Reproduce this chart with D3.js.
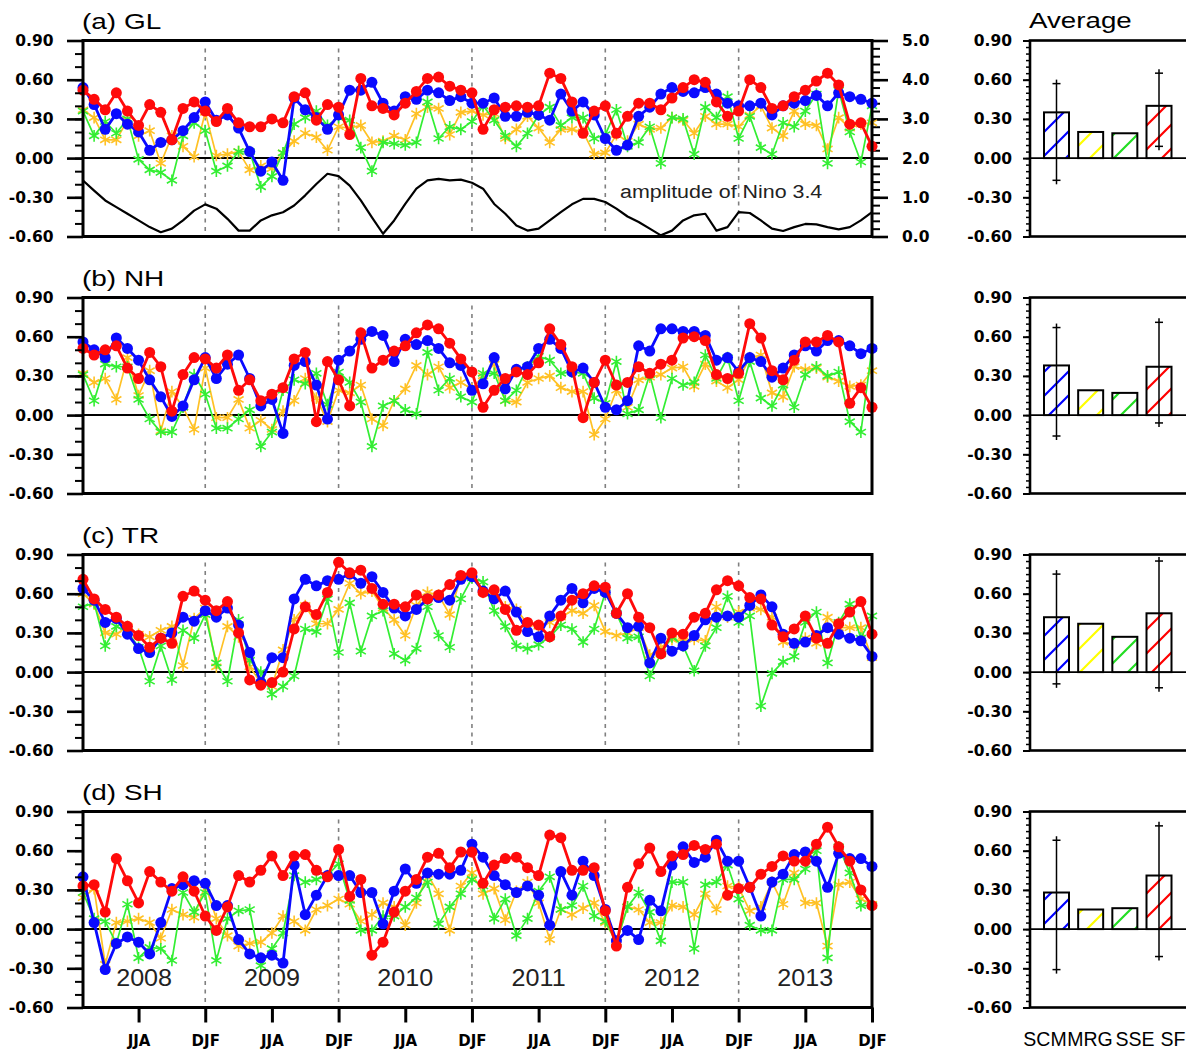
<!DOCTYPE html>
<html>
<head>
<meta charset="utf-8">
<script src="https://cdn.jsdelivr.net/npm/d3@7"></script>
<style>
  html, body { margin: 0; padding: 0; background: #fff; overflow: hidden; }
  svg { display: block; background: #fff; }
</style>
</head>
<body>
<svg id="chart" width="1186" height="1052"></svg>
<script>
// ---------------- data ----------------
// Monthly index 0..71 (Feb 2008 .. Jan 2014); ticks mark JJA / DJF season centres.
const seasonTickIndex = [5, 11, 17, 23, 29, 35, 41, 47, 53, 59, 65, 71];
const seasonTickLabels = ["JJA", "DJF", "JJA", "DJF", "JJA", "DJF", "JJA", "DJF", "JJA", "DJF", "JJA", "DJF"];
const years = ["2008", "2009", "2010", "2011", "2012", "2013"];
const models = ["SCM", "MRG", "SSE", "SFC"];
const panelTitles = ["(a) GL", "(b) NH", "(c) TR", "(d) SH"];
const yTicks = [-0.6, -0.3, 0, 0.3, 0.6, 0.9];
const ninoTicks = [0, 1, 2, 3, 4, 5];

// (a) global
const glSCM = [0.54,0.41,0.22,0.34,0.26,0.20,0.06,0.12,0.14,0.21,0.31,0.43,0.29,0.33,0.23,0.05,-0.10,-0.03,-0.17,0.46,0.37,0.31,0.22,0.33,0.52,0.52,0.58,0.42,0.36,0.47,0.45,0.52,0.50,0.44,0.47,0.42,
               0.42,0.46,0.32,0.32,0.35,0.33,0.29,0.49,0.36,0.43,0.33,0.15,0.06,0.10,0.32,0.39,0.49,0.54,0.51,0.50,0.54,0.49,0.42,0.40,0.40,0.42,0.33,0.40,0.42,0.44,0.48,0.40,0.50,0.47,0.45,0.42];
const glMRG = [0.37,0.31,0.14,0.14,0.29,0.17,0.21,-0.04,0.17,0.09,0.01,0.35,0.02,0.03,0.05,-0.09,-0.06,-0.08,0.04,0.13,0.19,0.16,0.06,0.24,0.23,0.25,0.12,0.13,0.17,0.14,0.34,0.39,0.38,0.18,0.35,0.36,
               0.33,0.34,0.15,0.22,0.32,0.23,0.12,0.22,0.22,0.20,0.03,0.04,0.18,0.13,0.26,0.22,0.23,0.31,0.29,0.19,0.32,0.26,0.26,0.24,0.33,0.40,0.23,0.17,0.36,0.26,0.25,0.07,0.31,0.23,0.26,0.27];
const glSSE = [0.36,0.17,0.28,0.19,0.30,-0.01,-0.09,-0.11,-0.17,0.17,0.27,0.21,-0.10,-0.06,0.05,0.05,-0.22,-0.14,0.04,0.26,0.31,0.36,0.25,0.31,0.29,0.08,-0.10,0.12,0.11,0.10,0.12,0.43,0.15,0.24,0.22,0.28,
               0.40,0.29,0.17,0.09,0.19,0.33,0.39,0.25,0.31,0.31,0.15,0.18,0.37,0.09,0.12,0.24,-0.04,0.31,0.30,0.03,0.39,0.31,0.47,0.15,0.32,0.08,0.03,0.27,0.24,0.36,0.49,-0.04,0.52,0.20,-0.03,0.40];
const glSFC = [0.52,0.45,0.37,0.50,0.36,0.25,0.41,0.35,0.14,0.38,0.43,0.36,0.28,0.38,0.27,0.24,0.24,0.30,0.27,0.47,0.50,0.29,0.41,0.39,0.18,0.61,0.40,0.38,0.33,0.42,0.51,0.61,0.62,0.55,0.52,0.50,
               0.22,0.37,0.39,0.40,0.39,0.40,0.65,0.61,0.43,0.19,0.36,0.40,0.19,0.32,0.42,0.42,0.37,0.46,0.54,0.60,0.58,0.43,0.32,0.36,0.60,0.54,0.38,0.40,0.47,0.52,0.59,0.65,0.56,0.26,0.27,0.09];
const ninoAmplitude = [1.43,1.17,0.92,0.75,0.58,0.41,0.24,0.11,0.20,0.41,0.66,0.82,0.71,0.45,0.15,0.15,0.41,0.54,0.62,0.79,1.05,1.34,1.60,1.54,1.30,0.92,0.49,0.07,0.41,0.83,1.22,1.43,1.47,1.43,1.45,1.37,
                       1.22,0.83,0.58,0.28,0.15,0.20,0.41,0.62,0.82,0.96,0.96,0.88,0.71,0.51,0.37,0.20,0.03,0.15,0.41,0.54,0.58,0.15,0.24,0.62,0.60,0.41,0.20,0.14,0.24,0.32,0.31,0.24,0.18,0.24,0.41,0.62];

// (b) northern hemisphere
const nhSCM = [0.56,0.50,0.44,0.59,0.51,0.42,0.27,0.14,-0.01,0.07,0.27,0.44,0.28,0.39,0.46,0.28,0.07,0.12,-0.14,0.38,0.41,0.23,-0.03,0.42,0.49,0.58,0.64,0.61,0.41,0.58,0.54,0.57,0.51,0.40,0.38,0.19,
               0.24,0.44,0.20,0.35,0.37,0.51,0.58,0.51,0.33,0.36,0.25,0.06,0.04,0.11,0.53,0.49,0.66,0.66,0.64,0.64,0.61,0.42,0.44,0.33,0.44,0.41,0.29,0.36,0.46,0.53,0.49,0.57,0.57,0.53,0.47,0.51];
const nhMRG = [0.32,0.25,0.28,0.12,0.44,0.15,0.34,-0.12,0.18,0.06,-0.11,0.36,-0.02,-0.02,0.12,-0.10,-0.04,-0.11,0.03,0.11,0.28,0.13,-0.05,0.19,0.17,0.23,-0.03,-0.08,0.11,0.20,0.38,0.31,0.37,0.21,0.25,0.20,
               0.30,0.39,0.11,0.10,0.25,0.28,0.30,0.21,0.18,0.18,-0.15,-0.03,0.19,0.06,0.27,0.29,0.31,0.36,0.37,0.22,0.39,0.26,0.21,0.27,0.44,0.46,0.17,0.14,0.37,0.35,0.36,0.29,0.26,0.22,0.23,0.34];
const nhSSE = [0.31,0.11,0.39,0.37,0.37,0.12,-0.03,-0.13,-0.13,0.06,0.31,0.16,-0.10,-0.10,-0.03,0.04,-0.24,-0.13,0.19,0.27,0.24,0.32,0.08,0.33,0.25,0.10,-0.24,0.07,0.11,0.04,0.01,0.48,0.19,0.28,0.14,0.10,
               0.32,0.32,0.11,0.19,0.37,0.45,0.42,0.32,0.33,0.32,0.13,0.09,0.41,0.01,0.04,0.31,-0.02,0.28,0.23,0.25,0.46,0.28,0.44,0.11,0.41,0.13,0.07,0.23,0.06,0.31,0.37,0.30,0.33,-0.05,-0.13,0.51];
const nhSFC = [0.51,0.46,0.50,0.53,0.36,0.28,0.48,0.37,0.03,0.31,0.44,0.43,0.36,0.46,0.19,0.27,0.11,0.16,0.21,0.43,0.48,-0.05,0.41,0.27,0.07,0.63,0.36,0.42,0.49,0.53,0.63,0.69,0.66,0.55,0.43,0.33,
               0.06,0.19,0.28,0.33,0.31,0.40,0.66,0.54,0.37,-0.02,0.25,0.42,0.23,0.25,0.37,0.32,0.39,0.42,0.59,0.60,0.57,0.31,0.28,0.32,0.70,0.59,0.34,0.27,0.42,0.56,0.56,0.61,0.56,0.09,0.21,0.06];

// (c) tropics
const trSCM = [0.64,0.55,0.38,0.41,0.29,0.18,0.15,0.26,0.30,0.42,0.39,0.47,0.42,0.49,0.36,0.15,-0.08,0.11,0.11,0.56,0.71,0.66,0.70,0.71,0.75,0.68,0.73,0.61,0.49,0.43,0.48,0.56,0.57,0.55,0.71,0.73,
               0.62,0.56,0.62,0.46,0.31,0.27,0.43,0.55,0.64,0.53,0.64,0.61,0.45,0.34,0.35,0.07,0.26,0.16,0.20,0.28,0.40,0.42,0.43,0.42,0.51,0.59,0.50,0.29,0.22,0.23,0.28,0.34,0.29,0.26,0.24,0.12];
const trMRG = [0.60,0.52,0.30,0.29,0.35,0.29,0.27,0.32,0.35,0.05,0.41,0.49,0.04,0.35,0.27,0.04,-0.08,-0.11,0.17,0.40,0.51,0.37,0.37,0.48,0.68,0.60,0.62,0.49,0.40,0.28,0.51,0.61,0.59,0.44,0.73,0.74,
               0.61,0.59,0.50,0.48,0.37,0.35,0.38,0.42,0.47,0.45,0.51,0.31,0.28,0.30,0.34,0.13,0.19,0.25,0.24,0.25,0.24,0.50,0.42,0.46,0.49,0.48,0.42,0.23,0.21,0.26,0.22,0.42,0.34,0.34,0.34,0.11];
const trSSE = [0.50,0.53,0.20,0.35,0.31,0.19,-0.07,0.20,-0.06,0.32,0.26,0.44,0.07,-0.07,0.40,0.09,0.00,-0.17,-0.11,-0.03,0.33,0.31,0.56,0.15,0.53,0.16,0.43,0.47,0.14,0.09,0.18,0.50,0.28,0.19,0.56,0.72,
               0.69,0.47,0.35,0.20,0.18,0.21,0.27,0.36,0.33,0.23,0.33,0.61,0.45,0.26,0.27,-0.03,0.14,0.27,0.20,0.01,0.20,0.34,0.58,0.38,0.43,-0.26,-0.01,0.08,0.12,0.38,0.46,0.07,0.38,0.52,0.26,0.43];
const trSFC = [0.71,0.56,0.48,0.42,0.35,0.28,0.19,0.26,0.22,0.58,0.62,0.55,0.47,0.54,0.30,-0.06,-0.10,-0.08,0.00,0.33,0.50,0.44,0.61,0.84,0.76,0.78,0.64,0.52,0.52,0.50,0.59,0.56,0.59,0.67,0.74,0.76,
               0.61,0.63,0.48,0.32,0.38,0.36,0.27,0.43,0.55,0.60,0.66,0.65,0.45,0.60,0.42,0.34,0.14,0.30,0.29,0.42,0.45,0.63,0.70,0.66,0.57,0.56,0.36,0.27,0.33,0.43,0.26,0.22,0.37,0.46,0.54,0.29];

// (d) southern hemisphere
const shSCM = [0.40,0.05,-0.31,-0.11,-0.06,-0.10,-0.19,0.05,0.31,0.34,0.37,0.35,0.18,0.18,-0.08,-0.19,-0.22,-0.20,-0.26,0.49,0.11,0.26,0.41,0.41,0.41,0.28,0.28,0.04,0.29,0.46,0.35,0.43,0.42,0.42,0.45,0.65,
               0.55,0.41,0.34,0.28,0.33,0.26,0.03,0.44,0.26,0.52,0.41,0.15,-0.09,-0.01,-0.08,0.22,0.14,0.49,0.63,0.51,0.55,0.68,0.52,0.52,0.32,0.10,0.36,0.42,0.57,0.59,0.52,0.32,0.58,0.54,0.54,0.48];
const shMRG = [0.24,0.31,-0.27,0.05,0.06,0.08,0.05,-0.07,0.15,0.11,0.09,0.34,0.08,-0.05,-0.13,-0.11,-0.10,-0.03,0.10,0.06,-0.01,0.15,0.18,0.23,0.19,0.06,0.11,0.20,0.17,0.03,0.20,0.42,0.27,-0.01,0.33,0.43,
               0.27,0.31,0.07,0.29,0.36,0.20,-0.08,0.15,0.11,0.16,0.20,0.05,-0.10,0.17,0.15,0.05,0.05,0.18,0.17,0.11,0.27,0.15,0.33,0.32,0.14,0.17,0.36,0.19,0.43,0.20,0.20,-0.13,0.34,0.36,0.23,0.19];
const shSSE = [0.28,0.08,0.06,-0.11,0.19,-0.22,-0.14,-0.15,-0.24,0.28,0.13,0.28,-0.24,0.08,0.14,0.15,-0.28,-0.15,-0.03,0.41,0.36,0.38,0.41,0.50,0.22,-0.01,-0.01,0.10,0.10,0.17,0.24,0.36,0.04,0.17,0.27,0.38,
               0.33,0.08,0.23,-0.05,0.08,0.29,0.40,0.15,0.18,0.33,0.10,0.06,-0.10,0.17,0.28,0.13,-0.09,0.36,0.36,-0.15,0.34,0.36,0.49,0.23,0.03,-0.01,-0.01,0.38,0.38,0.46,0.60,-0.22,0.63,0.43,0.18,0.18];
const shSFC = [0.33,0.34,0.13,0.54,0.37,0.20,0.44,0.36,0.29,0.40,0.29,0.10,-0.01,0.17,0.41,0.36,0.45,0.56,0.41,0.56,0.57,0.45,0.40,0.61,0.25,0.38,-0.20,-0.10,0.13,0.29,0.38,0.55,0.58,0.47,0.59,0.59,
               0.35,0.49,0.54,0.55,0.47,0.41,0.72,0.70,0.45,0.45,0.47,0.14,-0.13,0.32,0.50,0.62,0.44,0.56,0.57,0.64,0.61,0.65,0.26,0.31,0.32,0.42,0.48,0.56,0.52,0.52,0.65,0.78,0.63,0.52,0.30,0.18];

// Averages over the period (SCM, MRG, SSE, SFC) and spread for SCM / SFC
const avgGL = [0.35, 0.20, 0.19, 0.40];
const avgNH = [0.38, 0.19, 0.17, 0.37];
const avgTR = [0.42, 0.37, 0.27, 0.45];
const avgSH = [0.28, 0.15, 0.16, 0.41];
const spreadGL = [[-0.17, 0.57], null, null, [0.09, 0.65]];
const spreadNH = [[-0.16, 0.67], null, null, [-0.06, 0.71]];
const spreadTR = [[-0.09, 0.75], null, null, [-0.12, 0.85]];
const spreadSH = [[-0.31, 0.68], null, null, [-0.21, 0.79]];

// ---------------- drawing ----------------
const panels = [
  { title: panelTitles[0], series: { SCM: glSCM, MRG: glMRG, SSE: glSSE, SFC: glSFC }, avg: avgGL, spread: spreadGL },
  { title: panelTitles[1], series: { SCM: nhSCM, MRG: nhMRG, SSE: nhSSE, SFC: nhSFC }, avg: avgNH, spread: spreadNH },
  { title: panelTitles[2], series: { SCM: trSCM, MRG: trMRG, SSE: trSSE, SFC: trSFC }, avg: avgTR, spread: spreadTR },
  { title: panelTitles[3], series: { SCM: shSCM, MRG: shMRG, SSE: shSSE, SFC: shSFC }, avg: avgSH, spread: spreadSH }
];

const lineColor = { SCM: "#0a0aff", MRG: "#ffc125", SSE: "#33ee33", SFC: "#ff0a0a" };
const hatchColor = { SCM: "#0000ff", MRG: "#ffff00", SSE: "#22dd22", SFC: "#ff0000" };
const drawOrder = ["MRG", "SSE", "SCM", "SFC"];

const plotLeft = 83, plotRight = 872;
const panelH = 196, panelStep = 257, firstTop = 40.5;
const barLeft = 1030, barRight = 1205;
const tickFont = "'DejaVu Sans', sans-serif";
const textFont = "'Liberation Sans', Arial, sans-serif";

const svg = d3.select("#chart");
const defs = svg.append("defs");

// diagonal hatch patterns for the average bars
models.forEach(m => {
  const p = defs.append("pattern")
    .attr("id", "hatch-" + m)
    .attr("patternUnits", "userSpaceOnUse")
    .attr("width", 24).attr("height", 24);
  p.append("rect").attr("width", 24).attr("height", 24).attr("fill", "#fff");
  p.append("path")
    .attr("d", "M-6,6 L6,-6 M0,24 L24,0 M18,30 L30,18")
    .attr("stroke", hatchColor[m]).attr("stroke-width", 2.2).attr("fill", "none");
});

const x = d3.scaleLinear().domain([0, 71]).range([plotLeft, plotRight]);
const fmt2 = d => d.toFixed(2);
const fmt1 = d => d.toFixed(1);

function styleAxis(g, size) {
  g.select(".domain").remove();
  g.attr("font-family", null).attr("font-size", null);
  g.selectAll("text")
    .attr("font-family", tickFont)
    .attr("font-weight", "bold")
    .attr("font-size", size)
    .attr("fill", "#000");
  g.selectAll(".tick line").attr("stroke", "#000");
}

function minorAxis(parent, axisFn, scale, values, size, width) {
  const g = parent.append("g").call(axisFn(scale).tickValues(values).tickSize(size).tickFormat(""));
  g.select(".domain").remove();
  g.selectAll(".tick line").attr("stroke", "#000").attr("stroke-width", width);
  return g;
}

const starSymbol = d3.symbol().type(d3.symbolAsterisk).size(95);

panels.forEach((panel, k) => {
  const top = firstTop + panelStep * k;
  const bottom = top + panelH;
  const y = d3.scaleLinear().domain([-0.6, 0.9]).range([bottom, top]);
  const g = svg.append("g").attr("class", "panel");

  // dashed separators at each DJF inside the plot
  const djf = seasonTickIndex.filter((d, i) => seasonTickLabels[i] === "DJF" && d < 71);
  g.selectAll("line.djf").data(djf).enter().append("line")
    .attr("x1", d => x(d)).attr("x2", d => x(d))
    .attr("y1", top + 8).attr("y2", bottom)
    .attr("stroke", "#808080").attr("stroke-width", 1.6)
    .attr("stroke-dasharray", "4,4.5");

  // zero line
  g.append("line")
    .attr("x1", plotLeft).attr("x2", plotRight)
    .attr("y1", y(0)).attr("y2", y(0))
    .attr("stroke", "#000").attr("stroke-width", 2);

  // Nino 3.4 amplitude (right axis) in the global panel
  if (k === 0) {
    const yN = d3.scaleLinear().domain([0, 5]).range([bottom, top]);
    g.append("path")
      .datum(ninoAmplitude)
      .attr("fill", "none").attr("stroke", "#000").attr("stroke-width", 2.2)
      .attr("stroke-linejoin", "round")
      .attr("d", d3.line().x((d, i) => x(i)).y(d => yN(d)));

    minorAxis(g.append("g").attr("transform", `translate(${plotRight},0)`), d3.axisRight, yN,
      d3.range(0, 26).map(v => v / 5), 8, 2);
    const ra = g.append("g").attr("transform", `translate(${plotRight},0)`)
      .call(d3.axisRight(yN).tickValues(ninoTicks).tickFormat(fmt1).tickSize(16).tickPadding(14));
    styleAxis(ra, 15.5);
    ra.selectAll(".tick line").attr("stroke-width", 2.6);

    g.append("text")
      .attr("transform", "translate(620,198) scale(1.19,1)")
      .attr("font-family", textFont).attr("font-size", 18).attr("fill", "#222")
      .text("amplitude of Nino 3.4");
  }

  // series
  drawOrder.forEach(m => {
    const vals = panel.series[m];
    const isDot = (m === "SCM" || m === "SFC");
    const sg = g.append("g").attr("class", "series-" + m);
    sg.append("path")
      .datum(vals)
      .attr("fill", "none")
      .attr("stroke", lineColor[m])
      .attr("stroke-width", isDot ? 2.8 : 1.7)
      .attr("stroke-linejoin", "round")
      .attr("d", d3.line().x((d, i) => x(i)).y(d => y(d)));
    if (isDot) {
      sg.selectAll("circle").data(vals).enter().append("circle")
        .attr("cx", (d, i) => x(i)).attr("cy", d => y(d))
        .attr("r", 5.5).attr("fill", lineColor[m]);
    } else {
      sg.selectAll("path.star").data(vals).enter().append("path")
        .attr("class", "star")
        .attr("transform", (d, i) => `translate(${x(i)},${y(d)})`)
        .attr("d", starSymbol)
        .attr("fill", "none").attr("stroke", lineColor[m]).attr("stroke-width", 1.6);
    }
  });

  // frame
  g.append("rect")
    .attr("x", plotLeft).attr("y", top)
    .attr("width", plotRight - plotLeft).attr("height", panelH)
    .attr("fill", "none").attr("stroke", "#000").attr("stroke-width", 3);

  // left axis
  minorAxis(g.append("g").attr("transform", `translate(${plotLeft},0)`), d3.axisLeft, y,
    d3.range(-6, 10).map(v => v / 10), 8, 2);
  const la = g.append("g").attr("transform", `translate(${plotLeft},0)`)
    .call(d3.axisLeft(y).tickValues(yTicks).tickFormat(fmt2).tickSize(16).tickPadding(13.5));
  styleAxis(la, 15.5);
  la.selectAll(".tick line").attr("stroke-width", 2.6);

  // bottom axis with season labels and year labels on the last panel
  if (k === panels.length - 1) {
    const ba = g.append("g").attr("transform", `translate(0,${bottom})`)
      .call(d3.axisBottom(x).tickValues(seasonTickIndex)
        .tickFormat((d, i) => seasonTickLabels[i]).tickSize(15).tickPadding(13));
    styleAxis(ba, 15);
    ba.selectAll(".tick line").attr("stroke-width", 3);

    years.forEach((yr, j) => {
      const start = Math.max(0, 12 * j - 1), end = 12 * j + 11;
      g.append("text")
        .attr("transform", `translate(${x((start + end) / 2)},986) scale(1.07,1)`)
        .attr("text-anchor", "middle")
        .attr("font-family", textFont).attr("font-size", 23.5).attr("fill", "#222")
        .text(yr);
    });
  }

  // panel title
  g.append("text")
    .attr("transform", `translate(82,${top - 11.5}) scale(1.3,1)`)
    .attr("font-family", textFont).attr("font-size", 21.5).attr("fill", "#000")
    .text(panel.title);

  // ---- average bars ----
  const bg = svg.append("g").attr("class", "avg-panel");
  const bx = d3.scalePoint().domain(models).range([1056.5, 1159]);
  const barW = 25;

  bg.append("line")
    .attr("x1", barLeft).attr("x2", barRight)
    .attr("y1", y(0)).attr("y2", y(0))
    .attr("stroke", "#000").attr("stroke-width", 1.6);

  bg.selectAll("rect.bar").data(models).enter().append("rect")
    .attr("class", "bar")
    .attr("x", m => bx(m) - barW / 2)
    .attr("width", barW)
    .attr("y", (m, i) => y(Math.max(0, panel.avg[i])))
    .attr("height", (m, i) => Math.abs(y(0) - y(panel.avg[i])))
    .attr("fill", m => `url(#hatch-${m})`)
    .attr("stroke", "#000").attr("stroke-width", 2);

  models.forEach((m, i) => {
    const s = panel.spread[i];
    if (!s) return;
    const cx = bx(m);
    bg.append("line")
      .attr("x1", cx).attr("x2", cx)
      .attr("y1", y(s[1]) - 4).attr("y2", y(s[0]) + 4)
      .attr("stroke", "#000").attr("stroke-width", 1.5);
    [s[0], s[1]].forEach(v => {
      bg.append("line")
        .attr("x1", cx - 4).attr("x2", cx + 4)
        .attr("y1", y(v)).attr("y2", y(v))
        .attr("stroke", "#000").attr("stroke-width", 1.5);
    });
  });

  bg.append("rect")
    .attr("x", barLeft).attr("y", top)
    .attr("width", barRight - barLeft).attr("height", panelH)
    .attr("fill", "none").attr("stroke", "#000").attr("stroke-width", 2.6);

  minorAxis(bg.append("g").attr("transform", `translate(${barLeft},0)`), d3.axisLeft, y,
    d3.range(-12, 19).map(v => v / 20), 4, 1.5);
  const bla = bg.append("g").attr("transform", `translate(${barLeft},0)`)
    .call(d3.axisLeft(y).tickValues(yTicks).tickFormat(fmt2).tickSize(7).tickPadding(11));
  styleAxis(bla, 15.5);
  bla.selectAll(".tick line").attr("stroke-width", 2);

  if (k === 0) {
    bg.append("text")
      .attr("transform", `translate(1029,${top - 12.5}) scale(1.26,1)`)
      .attr("font-family", textFont).attr("font-size", 22).attr("fill", "#000")
      .text("Average");
  }
  if (k === panels.length - 1) {
    const lx = d3.scalePoint().domain(models).range([1045, 1180]);
    bg.selectAll("text.model").data(models).enter().append("text")
      .attr("class", "model")
      .attr("x", m => lx(m)).attr("y", 1046)
      .attr("text-anchor", "middle")
      .attr("font-family", textFont).attr("font-size", 19.5).attr("fill", "#000")
      .text(m => m);
  }
});
</script>
</body>
</html>
